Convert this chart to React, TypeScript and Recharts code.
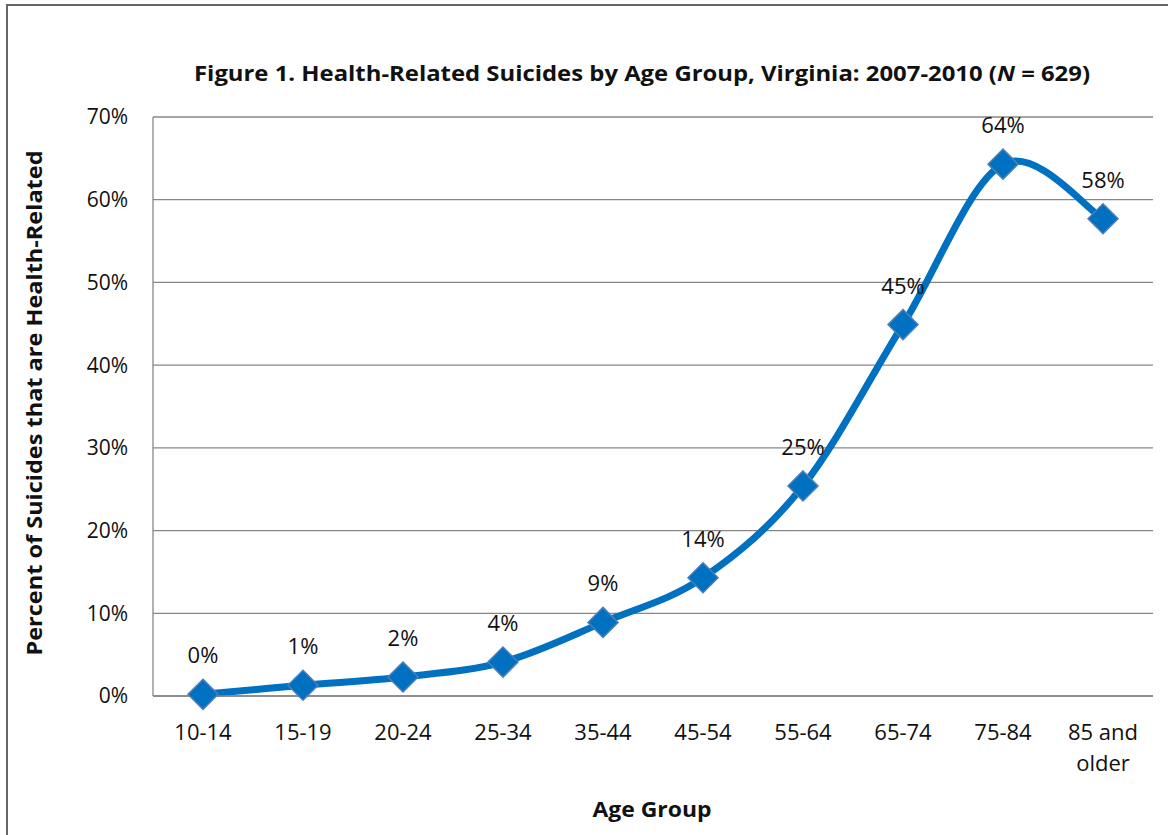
import { LineChart, Line, XAxis, YAxis, CartesianGrid, LabelList } from 'recharts'

const AGE_GROUPS = ['10-14', '15-19', '20-24', '25-34', '35-44', '45-54', '55-64', '65-74', '75-84', '85 and older']
const PCT_HEALTH = [0.2, 1.3, 2.3, 4.1, 8.9, 14.3, 25.4, 44.9, 64.3, 57.7]
const Y_TICKS = [0, 10, 20, 30, 40, 50, 60, 70]

const data = AGE_GROUPS.map((age, i) => ({ age, pct: PCT_HEALTH[i] }))

const FONT = '"Open Sans", "Liberation Sans", sans-serif'
const BLUE = '#0070C0'

// Excel-style smoothed line (catmull-rom / cardinal with tension 0)
function excelSmooth(context: any) {
  let pts: number[][] = []
  return {
    areaStart() {},
    areaEnd() {},
    lineStart() { pts = [] },
    point(x: number, y: number) { pts.push([+x, +y]) },
    lineEnd() {
      if (!pts.length) return
      context.moveTo(pts[0][0], pts[0][1])
      for (let i = 0; i < pts.length - 1; i++) {
        const p0 = pts[i - 1] || pts[i]
        const p1 = pts[i]
        const p2 = pts[i + 1]
        const p3 = pts[i + 2] || pts[i + 1]
        context.bezierCurveTo(
          p1[0] + (p2[0] - p0[0]) / 6, p1[1] + (p2[1] - p0[1]) / 6,
          p2[0] - (p3[0] - p1[0]) / 6, p2[1] - (p3[1] - p1[1]) / 6,
          p2[0], p2[1]
        )
      }
    },
  }
}

function Diamond({ cx, cy }: { cx?: number; cy?: number }) {
  if (cx == null || cy == null) return null
  const r = 15
  return (
    <path
      d={`M${cx},${cy - r} L${cx + r},${cy} L${cx},${cy + r} L${cx - r},${cy} Z`}
      fill={BLUE}
      stroke="#4A7EBB"
      strokeWidth={1.5}
    />
  )
}

// wrap long category names the way Excel does ("85 and" / "older")
function wrapWords(label: string) {
  const lines: string[] = []
  let cur = ''
  for (const w of label.split(' ')) {
    const next = cur ? cur + ' ' + w : w
    if (cur && next.length > 7) {
      lines.push(cur)
      cur = w
    } else cur = next
  }
  if (cur) lines.push(cur)
  return lines
}

function AgeTick({ x, y, payload }: { x?: number; y?: number; payload?: { value: string } }) {
  const lines = wrapWords(String(payload?.value ?? ''))
  return (
    <text x={x} y={(y ?? 0) + 14} textAnchor="middle" fontSize={22} fontFamily={FONT} fill="#111">
      {lines.map((l, i) => (
        <tspan key={i} x={x} dy={i === 0 ? '0.71em' : 31}>{l}</tspan>
      ))}
    </text>
  )
}

export default function App() {
  return (
    <div style={{ position: 'absolute', left: 0, top: 0, width: 1171, height: 835, background: '#fff', overflow: 'hidden' }}>
      <div style={{ position: 'absolute', left: 6, top: 4, width: 1160, height: 840, borderLeft: '2px solid #666', borderTop: '2px solid #666' }} />
      <LineChart width={1171} height={835} data={data} margin={{ top: 117, right: 18, bottom: 79, left: 50 }} style={{ position: 'absolute', left: 0, top: 0 }}>
        <CartesianGrid vertical={false} stroke="#878787" strokeWidth={1.3} />
        <XAxis
          dataKey="age"
          height={60}
          padding={{ left: 50, right: 50 }}
          tick={<AgeTick />}
          tickLine={false}
          tickSize={0}
          tickMargin={14}
          axisLine={{ stroke: '#878787', strokeWidth: 1.3 }}
          interval={0}
        />
        <YAxis
          width={103}
          domain={[0, 70]}
          ticks={Y_TICKS}
          tickFormatter={(v: number) => `${v}%`}
          tickLine={false}
          tickSize={0}
          tickMargin={25}
          axisLine={{ stroke: '#878787', strokeWidth: 1.3 }}
          tick={{ fontSize: 21, fontFamily: FONT, fill: '#111' }}
        />
        <Line
          dataKey="pct"
          type={excelSmooth as any}
          stroke={BLUE}
          strokeWidth={7}
          dot={<Diamond />}
          activeDot={false}
          isAnimationActive={false}
        >
          <LabelList
            dataKey="pct"
            position="top"
            offset={31}
            formatter={(v: any) => `${Math.round(Number(v))}%`}
            style={{ fontSize: 22, fontFamily: FONT, fill: '#111' }}
          />
        </Line>
      </LineChart>
      <svg width={1171} height={835} style={{ position: 'absolute', left: 0, top: 0, pointerEvents: 'none' }}>
        <text x={642} y={81} textAnchor="middle" fontFamily={FONT} fontWeight="bold" fontSize={22} fill="#111" textLength={896} lengthAdjust="spacingAndGlyphs">
          Figure 1. Health-Related Suicides by Age Group, Virginia: 2007-2010 (<tspan fontStyle="italic">N</tspan> = 629)
        </text>
        <text x={33} y={403} transform="rotate(-90 33 403)" textAnchor="middle" dominantBaseline="central" fontFamily={FONT} fontWeight="bold" fontSize={22} fill="#111" textLength={505} lengthAdjust="spacingAndGlyphs">
          Percent of Suicides that are Health-Related
        </text>
        <text x={652} y={808} textAnchor="middle" dominantBaseline="central" fontFamily={FONT} fontWeight="bold" fontSize={22} fill="#111" textLength={119} lengthAdjust="spacingAndGlyphs">
          Age Group
        </text>
      </svg>
    </div>
  )
}
